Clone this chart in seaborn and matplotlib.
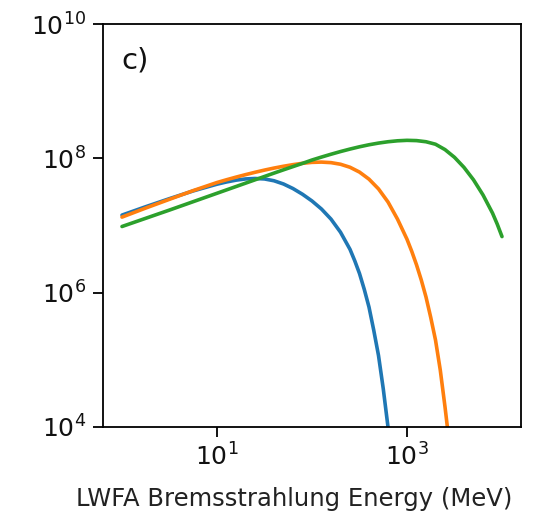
import numpy as np
import pandas as pd
import matplotlib
matplotlib.use("Agg")
import matplotlib.pyplot as plt
from matplotlib.ticker import NullLocator
import seaborn as sns

# Bremsstrahlung photon spectra from three LWFA electron beams
# (energies in MeV and photon yields, both given as log10 values)
log_energy_a = [0.0, 0.25, 0.5, 0.75, 1.0, 1.1, 1.2, 1.3, 1.4, 1.5, 1.6, 1.7, 1.8, 1.9,
                2.0, 2.1, 2.2, 2.3, 2.4, 2.45, 2.5, 2.55, 2.6, 2.65, 2.7, 2.75, 2.8]
log_yield_a = [7.155, 7.28, 7.40, 7.515, 7.615, 7.648, 7.675, 7.693, 7.70, 7.693, 7.666,
               7.618, 7.55, 7.465, 7.365, 7.245, 7.095, 6.90, 6.645, 6.475, 6.285, 6.05,
               5.785, 5.44, 5.065, 4.57, 4.0]

log_energy_b = [0.0, 0.25, 0.5, 0.75, 1.0, 1.1, 1.2, 1.3, 1.4, 1.5, 1.6, 1.7, 1.8, 1.9,
                2.0, 2.1, 2.2, 2.3, 2.4, 2.5, 2.6, 2.7, 2.8, 2.9, 3.0, 3.05, 3.1, 3.15,
                3.2, 3.25, 3.3, 3.35, 3.4, 3.425]
log_yield_b = [7.125, 7.26, 7.39, 7.52, 7.64, 7.681, 7.72, 7.757, 7.792, 7.825, 7.855,
               7.882, 7.906, 7.926, 7.94, 7.944, 7.936, 7.912, 7.867, 7.795, 7.69, 7.545,
               7.35, 7.095, 6.795, 6.615, 6.415, 6.19, 5.935, 5.63, 5.295, 4.85, 4.30, 4.0]

log_energy_c = [0.0, 0.5, 1.0, 1.5, 1.6, 1.7, 1.8, 1.9, 2.0, 2.1, 2.2, 2.3, 2.4, 2.5,
                2.6, 2.7, 2.8, 2.9, 3.0, 3.1, 3.2, 3.3, 3.4, 3.5, 3.6, 3.7, 3.8, 3.9,
                3.95, 4.0]
log_yield_c = [6.985, 7.23, 7.48, 7.73, 7.78, 7.829, 7.877, 7.925, 7.975, 8.019, 8.061,
               8.101, 8.138, 8.172, 8.202, 8.227, 8.247, 8.261, 8.268, 8.264, 8.247,
               8.21, 8.13, 8.015, 7.865, 7.68, 7.455, 7.185, 7.02, 6.835]

series_names = ["a", "b", "c"]
colors = ["#1f77b4", "#ff7f0e", "#2ca02c"]

frames = []
for name, le, ly in zip(series_names,
                        [log_energy_a, log_energy_b, log_energy_c],
                        [log_yield_a, log_yield_b, log_yield_c]):
    frames.append(pd.DataFrame({
        "energy": np.power(10.0, le),
        "yield": np.power(10.0, ly),
        "beam": name,
    }))
df = pd.concat(frames, ignore_index=True)

sns.set_style("ticks")
plt.rcParams["font.family"] = ["DejaVu Sans"]

fig = plt.figure(figsize=(5.51, 5.17), dpi=100)
ax = fig.add_axes([103 / 551, 90 / 517, 418 / 551, 403 / 517])

sns.lineplot(data=df, x="energy", y="yield", hue="beam", palette=colors,
             linewidth=2.6, legend=False, ax=ax, sort=False)

ax.set_xscale("log")
ax.set_yscale("log")
ax.set_xlim(10 ** -0.2, 10 ** 4.2)
ax.set_ylim(1e4, 1e10)
ax.set_xticks([1e1, 1e3])
ax.set_yticks([1e4, 1e6, 1e8, 1e10])
ax.xaxis.set_minor_locator(NullLocator())
ax.yaxis.set_minor_locator(NullLocator())

for side in ["top", "right", "bottom", "left"]:
    ax.spines[side].set_visible(True)
    ax.spines[side].set_linewidth(1.3)
    ax.spines[side].set_color("black")

ax.tick_params(axis="both", which="major", labelsize=18, length=7, width=1.3,
               color="black", labelcolor="#111111", pad=5)
ax.set_xlabel("LWFA Bremsstrahlung Energy (MeV)", fontsize=17.5, color="#222222")
ax.xaxis.set_label_coords(0.458, -0.148)
ax.set_ylabel("")
ax.text(0.043, 0.945, "c)", transform=ax.transAxes, fontsize=21,
        ha="left", va="top", color="#111111")

fig.savefig("out.png", dpi=100)
